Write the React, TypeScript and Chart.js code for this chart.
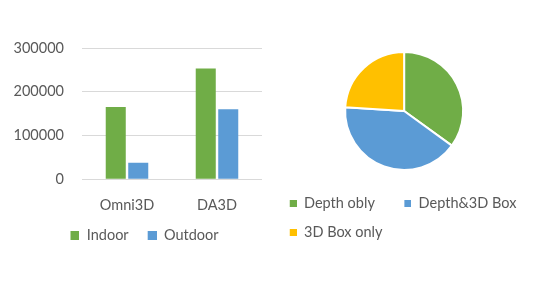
import React, { useEffect, useRef } from 'react';
import { Chart, registerables } from 'chart.js';

Chart.register(...registerables);

// ---- data ----
const barCategories = ['Omni3D', 'DA3D'];
const indoorValues = [165000, 253000];
const outdoorValues = [38000, 160000];
const yTickValues = [0, 100000, 200000, 300000];

const pieLabels = ['Depth obly', 'Depth&3D Box', '3D Box only'];
const pieValues = [35, 41, 24];

// ---- styles ----
const GREEN = '#70AD47';
const BLUE = '#5B9BD5';
const YELLOW = '#FFC000';
const TEXT = '#595959';
const GRID = '#D9D9D9';
const FONT = { family: 'Lato', size: 14.5 };

// legend swatch: a square drawn at the right end of a wider transparent box
function makeSwatch(color: string, boxW: number, size: number): HTMLCanvasElement {
  const c = document.createElement('canvas');
  c.width = boxW;
  c.height = size;
  const g = c.getContext('2d')!;
  g.fillStyle = color;
  g.fillRect(boxW - size, 0, size, size);
  return c;
}

function BarChart() {
  const ref = useRef<HTMLCanvasElement>(null);
  useEffect(() => {
    const colors = [GREEN, BLUE];
    const chart = new Chart(ref.current!, {
      type: 'bar',
      data: {
        labels: barCategories,
        datasets: [
          { label: 'Indoor', data: indoorValues, backgroundColor: GREEN, categoryPercentage: 0.5, barPercentage: 0.89 },
          { label: 'Outdoor', data: outdoorValues, backgroundColor: BLUE, categoryPercentage: 0.5, barPercentage: 0.89 },
        ],
      },
      options: {
        animation: false,
        responsive: false,
        layout: { padding: { top: 48, left: 12, right: 18, bottom: 7.75 } },
        plugins: {
          legend: {
            position: 'bottom',
            labels: {
              usePointStyle: true,
              pointStyleWidth: 24,
              padding: 4,
              color: TEXT,
              font: FONT,
              generateLabels: (ch: any) => {
                const base = (Chart as any).defaults.plugins.legend.labels.generateLabels(ch);
                return base.map((item: any, i: number) => ({
                  ...item,
                  pointStyle: makeSwatch(colors[i], 24, 9),
                  lineWidth: 0,
                  strokeStyle: 'rgba(0,0,0,0)',
                }));
              },
            },
          },
          tooltip: { enabled: false },
        },
        scales: {
          x: {
            grid: { display: false, drawTicks: false },
            border: { display: false },
            ticks: { color: TEXT, font: FONT, padding: 17 },
            afterFit: (s: any) => { s.height = 44.5; },
          },
          y: {
            min: 0,
            max: 300000,
            afterBuildTicks: (s: any) => { s.ticks = yTickValues.map((v) => ({ value: v })); },
            grid: { color: GRID, drawTicks: false },
            border: { display: false },
            ticks: { color: TEXT, font: FONT, padding: 18, callback: (v: any) => String(v) },
            afterFit: (s: any) => { s.width = 70; },
          },
        },
      },
    } as any);
    return () => chart.destroy();
  }, []);
  return <canvas ref={ref} width={280} height={260} style={{ display: 'block' }} />;
}

function PieChart() {
  const ref = useRef<HTMLCanvasElement>(null);
  useEffect(() => {
    const colors = [GREEN, BLUE, YELLOW];
    const chart = new Chart(ref.current!, {
      type: 'pie',
      data: {
        labels: pieLabels,
        datasets: [
          { data: pieValues, backgroundColor: colors, borderColor: '#ffffff', borderWidth: 2, radius: 59 },
        ],
      },
      options: {
        animation: false,
        responsive: false,
        layout: { padding: { top: 40.5, left: 2.25, right: 0, bottom: 10.5 } },
        plugins: {
          legend: {
            position: 'bottom',
            align: 'start',
            labels: {
              usePointStyle: true,
              pointStyleWidth: 22,
              padding: 14.5,
              color: TEXT,
              font: FONT,
              generateLabels: (ch: any) => {
                const base = (Chart as any).overrides.pie.plugins.legend.labels.generateLabels(ch);
                return base.map((item: any, i: number) => ({
                  ...item,
                  pointStyle: makeSwatch(colors[i], 22, 7),
                  lineWidth: 0,
                  strokeStyle: 'rgba(0,0,0,0)',
                }));
              },
            },
          },
          tooltip: { enabled: false },
        },
      },
    } as any);
    return () => chart.destroy();
  }, []);
  return <canvas ref={ref} width={290} height={260} style={{ display: 'block' }} />;
}

export default function App() {
  return (
    <div style={{ position: 'absolute', left: 0, top: 0, width: 548, height: 283, background: '#fff', overflow: 'hidden' }}>
      <div style={{ position: 'absolute', left: 0, top: 0 }}>
        <BarChart />
      </div>
      <div style={{ position: 'absolute', left: 258, top: 0 }}>
        <PieChart />
      </div>
    </div>
  );
}
